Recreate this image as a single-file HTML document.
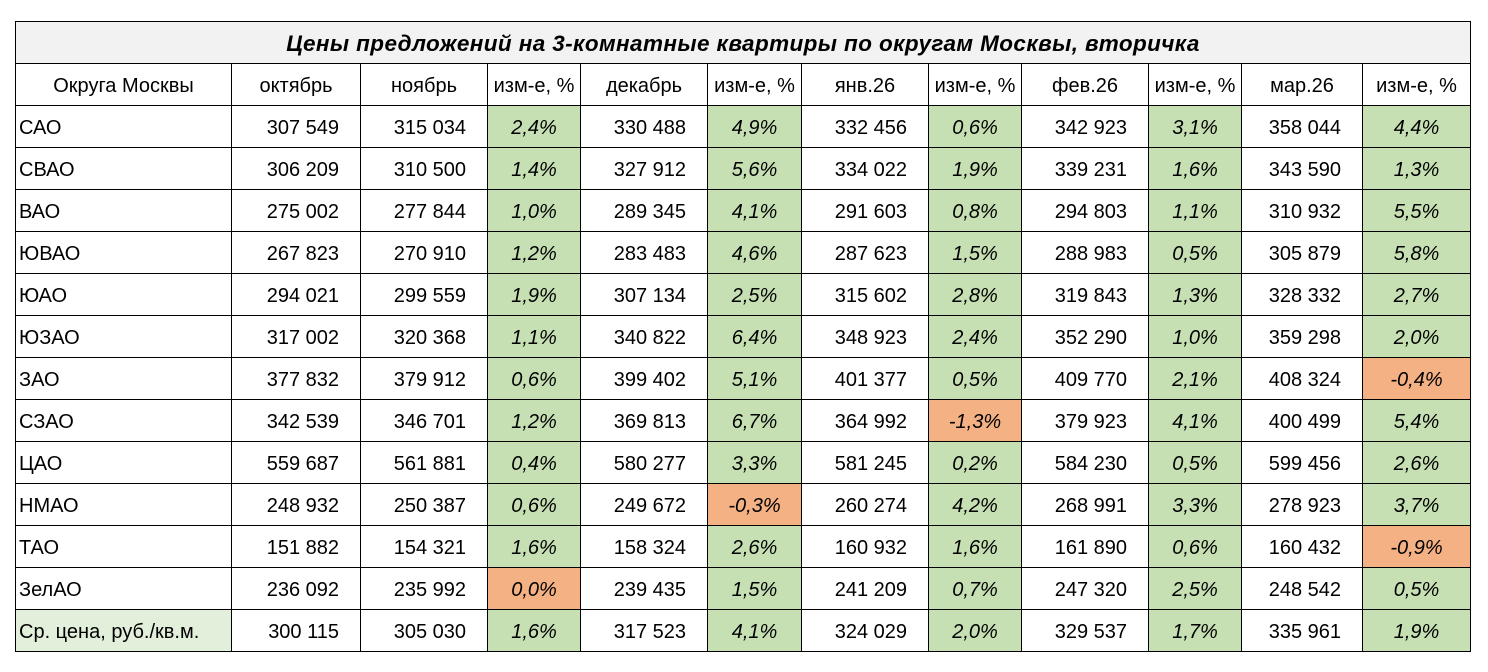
<!DOCTYPE html>
<html><head><meta charset="utf-8"><style>
body{margin:0;background:#fff;width:1488px;height:672px;overflow:hidden;font-family:"Liberation Sans","DejaVu Sans",sans-serif;}
table{position:absolute;left:15px;top:21px;border-collapse:collapse;table-layout:fixed;}
td{border:1px solid #000;height:41px;padding:3px 0 0 0;box-sizing:border-box;font-size:20px;color:#000;white-space:nowrap;overflow:hidden;}
td.n{text-align:right;padding-right:21px;}
td.p{text-align:center;font-style:italic;background:#C6E0B4;}
td.o{background:#F4B183;}
td.h{text-align:center;}
td.l{text-align:left;padding-left:3px;}
td.t{background:#F2F2F2;text-align:center;font-weight:bold;font-style:italic;font-size:22.5px;letter-spacing:0.4px;padding-top:2px;}
</style></head><body>
<table>
<colgroup><col style="width:216px"><col style="width:129px"><col style="width:127px"><col style="width:93px"><col style="width:127px"><col style="width:94px"><col style="width:127px"><col style="width:93px"><col style="width:127px"><col style="width:93px"><col style="width:121px"><col style="width:108px"></colgroup>
<tr><td class="t" colspan="12" style="height:42px">Цены предложений на 3-комнатные квартиры по округам Москвы, вторичка</td></tr>
<tr><td class="h" style="height:42px">Округа Москвы</td><td class="h">октябрь</td><td class="h">ноябрь</td><td class="h">изм-е, %</td><td class="h">декабрь</td><td class="h">изм-е, %</td><td class="h">янв.26</td><td class="h">изм-е, %</td><td class="h">фев.26</td><td class="h">изм-е, %</td><td class="h">мар.26</td><td class="h">изм-е, %</td></tr>
<tr><td class="l" style="height:42px">САО</td><td class="n">307 549</td><td class="n">315 034</td><td class="p">2,4%</td><td class="n">330 488</td><td class="p">4,9%</td><td class="n">332 456</td><td class="p">0,6%</td><td class="n">342 923</td><td class="p">3,1%</td><td class="n">358 044</td><td class="p">4,4%</td></tr>
<tr><td class="l" style="height:42px">СВАО</td><td class="n">306 209</td><td class="n">310 500</td><td class="p">1,4%</td><td class="n">327 912</td><td class="p">5,6%</td><td class="n">334 022</td><td class="p">1,9%</td><td class="n">339 231</td><td class="p">1,6%</td><td class="n">343 590</td><td class="p">1,3%</td></tr>
<tr><td class="l" style="height:42px">ВАО</td><td class="n">275 002</td><td class="n">277 844</td><td class="p">1,0%</td><td class="n">289 345</td><td class="p">4,1%</td><td class="n">291 603</td><td class="p">0,8%</td><td class="n">294 803</td><td class="p">1,1%</td><td class="n">310 932</td><td class="p">5,5%</td></tr>
<tr><td class="l" style="height:42px">ЮВАО</td><td class="n">267 823</td><td class="n">270 910</td><td class="p">1,2%</td><td class="n">283 483</td><td class="p">4,6%</td><td class="n">287 623</td><td class="p">1,5%</td><td class="n">288 983</td><td class="p">0,5%</td><td class="n">305 879</td><td class="p">5,8%</td></tr>
<tr><td class="l" style="height:42px">ЮАО</td><td class="n">294 021</td><td class="n">299 559</td><td class="p">1,9%</td><td class="n">307 134</td><td class="p">2,5%</td><td class="n">315 602</td><td class="p">2,8%</td><td class="n">319 843</td><td class="p">1,3%</td><td class="n">328 332</td><td class="p">2,7%</td></tr>
<tr><td class="l" style="height:42px">ЮЗАО</td><td class="n">317 002</td><td class="n">320 368</td><td class="p">1,1%</td><td class="n">340 822</td><td class="p">6,4%</td><td class="n">348 923</td><td class="p">2,4%</td><td class="n">352 290</td><td class="p">1,0%</td><td class="n">359 298</td><td class="p">2,0%</td></tr>
<tr><td class="l" style="height:42px">ЗАО</td><td class="n">377 832</td><td class="n">379 912</td><td class="p">0,6%</td><td class="n">399 402</td><td class="p">5,1%</td><td class="n">401 377</td><td class="p">0,5%</td><td class="n">409 770</td><td class="p">2,1%</td><td class="n">408 324</td><td class="p o">-0,4%</td></tr>
<tr><td class="l" style="height:42px">СЗАО</td><td class="n">342 539</td><td class="n">346 701</td><td class="p">1,2%</td><td class="n">369 813</td><td class="p">6,7%</td><td class="n">364 992</td><td class="p o">-1,3%</td><td class="n">379 923</td><td class="p">4,1%</td><td class="n">400 499</td><td class="p">5,4%</td></tr>
<tr><td class="l" style="height:42px">ЦАО</td><td class="n">559 687</td><td class="n">561 881</td><td class="p">0,4%</td><td class="n">580 277</td><td class="p">3,3%</td><td class="n">581 245</td><td class="p">0,2%</td><td class="n">584 230</td><td class="p">0,5%</td><td class="n">599 456</td><td class="p">2,6%</td></tr>
<tr><td class="l" style="height:42px">НМАО</td><td class="n">248 932</td><td class="n">250 387</td><td class="p">0,6%</td><td class="n">249 672</td><td class="p o">-0,3%</td><td class="n">260 274</td><td class="p">4,2%</td><td class="n">268 991</td><td class="p">3,3%</td><td class="n">278 923</td><td class="p">3,7%</td></tr>
<tr><td class="l" style="height:42px">ТАО</td><td class="n">151 882</td><td class="n">154 321</td><td class="p">1,6%</td><td class="n">158 324</td><td class="p">2,6%</td><td class="n">160 932</td><td class="p">1,6%</td><td class="n">161 890</td><td class="p">0,6%</td><td class="n">160 432</td><td class="p o">-0,9%</td></tr>
<tr><td class="l" style="height:42px">ЗелАО</td><td class="n">236 092</td><td class="n">235 992</td><td class="p o">0,0%</td><td class="n">239 435</td><td class="p">1,5%</td><td class="n">241 209</td><td class="p">0,7%</td><td class="n">247 320</td><td class="p">2,5%</td><td class="n">248 542</td><td class="p">0,5%</td></tr>
<tr><td class="l" style="height:42px;background:#E2EFDA">Ср. цена, руб./кв.м.</td><td class="n">300 115</td><td class="n">305 030</td><td class="p">1,6%</td><td class="n">317 523</td><td class="p">4,1%</td><td class="n">324 029</td><td class="p">2,0%</td><td class="n">329 537</td><td class="p">1,7%</td><td class="n">335 961</td><td class="p">1,9%</td></tr>
</table>
</body></html>
